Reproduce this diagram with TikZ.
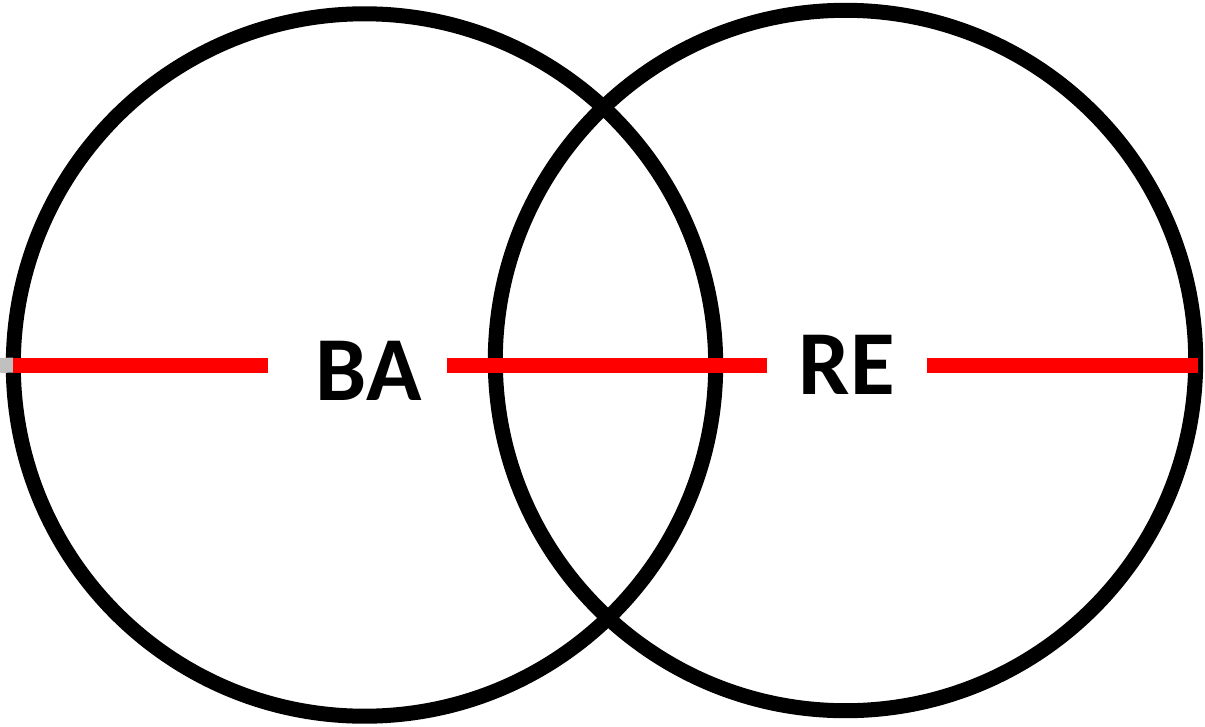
\documentclass[tikz,border=0pt]{standalone}
\usepackage{fontspec}
\setmainfont{Carlito}
\definecolor{vennRed}{HTML}{FF0000}
\definecolor{stubGray}{HTML}{C0C0C0}
\usetikzlibrary{calc}

\begin{document}
\begin{tikzpicture}[x=0.01cm, y=-0.01cm,
  ring/.style={draw=black, line width=0.15cm, circle, outer sep=0pt, inner sep=0pt},
  tag/.style={inner sep=0pt, font=\fontsize{26}{30}\selectfont\bfseries},
  redline/.style={draw=vennRed, line width=0.15cm},
]
  \useasboundingbox (0,0) rectangle (1205,727);

  % the two sets
  \node[ring, minimum size=7.02cm] (lc) at (364.5,365) {};
  \node[ring, minimum size=7.00cm] (rc) at (845.5,360.5) {};

  % labels
  \node[tag] (ba) at (368.5,370.5) {BA};
  \node[tag] (re) at (847,365) {RE};

  % axis through the labels
  \draw[draw=stubGray, line width=0.15cm] (0,365.5) -- (lc.west);
  \draw[redline] (lc.west) -- ([xshift=-0.47cm]ba.west |- lc.center);
  \draw[redline] ([xshift=0.25cm]ba.east |- lc.center) -- ([xshift=-0.31cm]re.west |- lc.center);
  \draw[redline] ([xshift=0.31cm]re.east |- lc.center) -- ([xshift=0.025cm]rc.east |- lc.center);
\end{tikzpicture}
\end{document}
